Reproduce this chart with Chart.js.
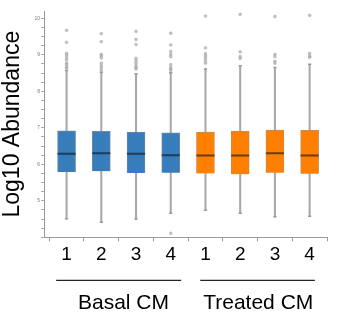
<!DOCTYPE html>
<html><head><meta charset="utf-8">
<script src="https://cdn.jsdelivr.net/npm/chart.js@4"></script>
<style>html,body{margin:0;padding:0;background:#fff;overflow:hidden}#wrap{width:338px;height:328px;position:relative}</style>
</head><body><div id="wrap"><canvas id="c"></canvas></div>
<script>
const sampleLabels = ['1','2','3','4','1','2','3','4'];
const groupNames = ['Basal CM','Treated CM'];
const groupStart = [0.70, 4.85];
const groupEnd = [4.30, 8.15];
const groupCenter = [2.64, 6.52];
const q1 = [5.79, 5.81, 5.76, 5.77, 5.75, 5.73, 5.77, 5.74];
const median = [6.29, 6.30, 6.29, 6.25, 6.24, 6.24, 6.30, 6.24];
const q3 = [6.92, 6.90, 6.88, 6.86, 6.88, 6.91, 6.94, 6.93];
const whiskerLow = [4.51, 4.41, 4.50, 4.66, 4.74, 4.66, 4.56, 4.58];
const whiskerHigh = [8.57, 8.52, 8.48, 8.51, 8.61, 8.70, 8.65, 8.74];
const outliers = [
  [9.67, 9.34, 9.04, 8.99, 8.92, 8.86, 8.77, 8.73, 8.67, 8.63],
  [9.58, 9.36, 9.01, 8.97, 8.91, 8.77, 8.70, 8.64, 8.57],
  [9.64, 9.42, 9.28, 8.90, 8.84, 8.77, 8.70, 8.65, 8.61],
  [9.59, 9.27, 9.09, 9.01, 8.95, 8.73, 8.65, 8.61, 8.57, 4.11],
  [10.06, 9.19, 9.03, 8.97, 8.91, 8.84, 8.77],
  [10.11, 9.08, 8.95, 8.90],
  [10.05, 9.01, 8.95, 8.82, 8.77],
  [10.08, 9.04, 8.97, 8.93]
];
const yLabelValues = [5, 6, 7, 8, 9, 10];

const xs = sampleLabels.map((_, i) => i + 1);
const boxFill = xs.map(x => x <= 4 ? '#377DBB' : '#FF8000');
const medColor = xs.map(x => x <= 4 ? '#1E3D5C' : '#6E3A08');
const boxBorder = xs.map(x => x <= 4 ? '#6C8AA6' : '#C98A4E');

const FONT = "'Liberation Sans', Arial, sans-serif";

const groupLines = {
  id: 'groupLines',
  afterDraw(chart) {
    const xs_ = chart.scales.x;
    const ctx = chart.ctx;
    ctx.save();
    ctx.strokeStyle = '#222';
    ctx.lineWidth = 1.3;
    const y = xs_.bottom + 7;
    for (let i = 0; i < groupNames.length; i++) {
      ctx.beginPath();
      ctx.moveTo(xs_.getPixelForValue(groupStart[i]), y);
      ctx.lineTo(xs_.getPixelForValue(groupEnd[i]), y);
      ctx.stroke();
    }
    ctx.restore();
  }
};

new Chart(document.getElementById('c'), {
  type: 'bar',
  data: {
    datasets: [
      {
        type: 'bar', data: xs.map((x, i) => ({x, y: [whiskerLow[i], whiskerHigh[i]]})),
        backgroundColor: '#A8A8A8', barThickness: 1.4, grouped: false, order: 4
      },
      {
        type: 'bar', data: xs.map((x, i) => ({x, y: [q1[i], q3[i]]})),
        backgroundColor: boxFill, borderColor: boxBorder, borderWidth: 1,
        barThickness: 18, grouped: false, order: 3
      },
      {
        type: 'scatter', data: xs.map((x, i) => ({x, y: median[i]})),
        pointStyle: 'line', radius: 9, borderWidth: 2, borderColor: medColor, order: 1
      },
      {
        type: 'scatter',
        data: xs.flatMap((x, i) => [{x, y: whiskerLow[i]}, {x, y: whiskerHigh[i]}]),
        pointStyle: 'line', radius: 1.6, borderWidth: 1.5, borderColor: '#999', order: 2
      },
      {
        type: 'scatter',
        data: xs.flatMap((x, i) => outliers[i].map(v => ({x, y: v}))),
        radius: 1.4, backgroundColor: 'rgba(180,180,180,0.75)', borderColor: 'rgba(145,145,145,0.75)',
        borderWidth: 0.5, order: 1
      }
    ]
  },
  options: {
    responsive: true, maintainAspectRatio: false, animation: false,
    layout: {padding: {top: 8, right: 2, left: 0, bottom: 0}},
    plugins: {legend: {display: false}, tooltip: {enabled: false}},
    scales: {
      x: {
        type: 'linear', min: 0.35, max: 8.5, offset: false,
        afterBuildTicks: s => { s.ticks = xs.map(v => ({value: v})); },
        afterFit: s => { s.height = 36; },
        ticks: {
          autoSkip: false, maxRotation: 0, padding: 2, color: '#000',
          font: {family: FONT, size: 19},
          callback: (v, i) => sampleLabels[i]
        },
        grid: {display: true, drawOnChartArea: false, tickLength: 4, color: '#999'},
        border: {display: true, color: '#999', width: 1}
      },
      x2: {
        type: 'linear', position: 'bottom', min: 0.35, max: 8.5, offset: false,
        afterBuildTicks: s => { s.ticks = groupCenter.map(v => ({value: v})); },
        afterFit: s => { s.height = 54.7; },
        ticks: {
          autoSkip: false, maxRotation: 0, padding: 9, color: '#000',
          font: {family: FONT, size: 21},
          callback: (v, i) => groupNames[i]
        },
        grid: {display: false},
        border: {display: false}
      },
      y: {
        min: 4, max: 10.2,
        afterBuildTicks: s => {
          const t = [];
          for (let v = 4; v <= 10.001; v += 0.25) t.push({value: Math.round(v * 100) / 100});
          s.ticks = t;
        },
        afterFit: s => { s.width = 44; },
        ticks: {
          autoSkip: false, padding: 1, color: '#77779a',
          font: {family: FONT, size: 5},
          callback: v => yLabelValues.includes(v) ? String(v) : ''
        },
        grid: {display: true, drawOnChartArea: false, tickLength: 3, color: '#aaa'},
        border: {display: true, color: '#999', width: 1},
        title: {
          display: true, text: 'Log10 Abundance', color: '#000', padding: 0,
          font: {family: FONT, size: 23, lineHeight: 1.1}
        }
      }
    }
  },
  plugins: [groupLines]
});
</script>
</body></html>
